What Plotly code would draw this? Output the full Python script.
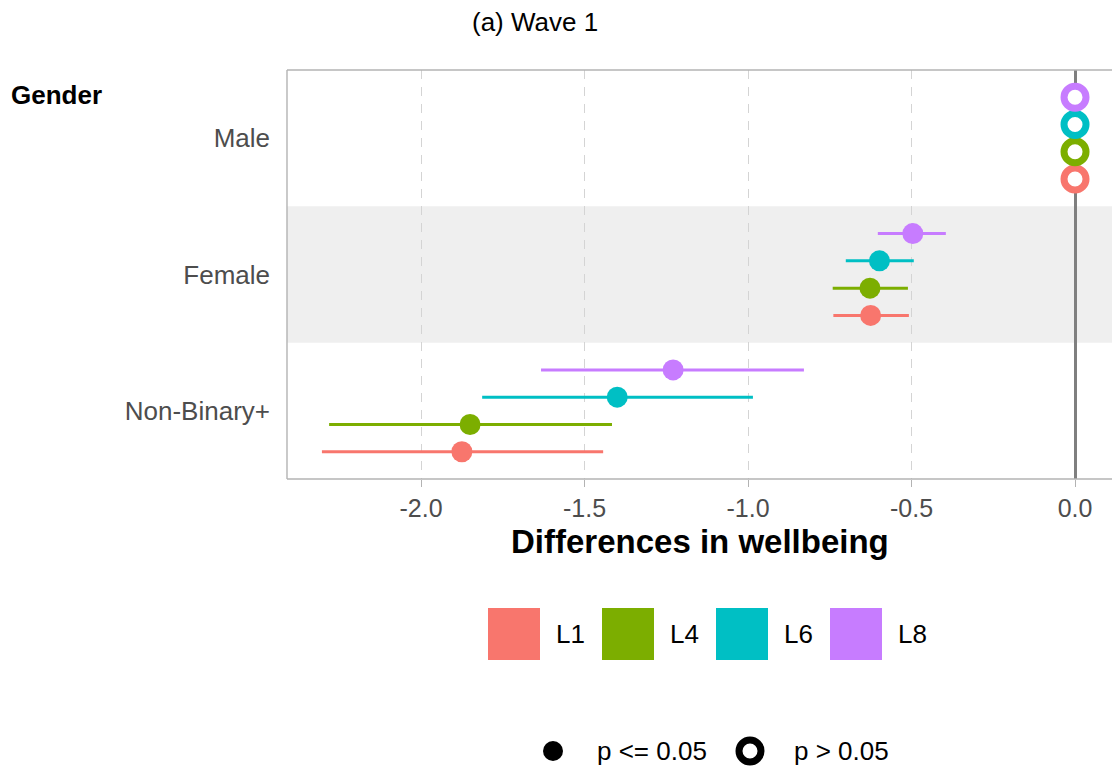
import plotly.graph_objects as go

# Estimates of differences in wellbeing by gender (reference: Male)
genders = ["Male", "Female", "Non-Binary+"]
levels = ["L1", "L4", "L6", "L8"]
colors = ["#F8766D", "#7CAE00", "#00BFC4", "#C77CFF"]

est_L1 = [0.0, -0.625, -1.875]
lo_L1 = [0.0, -0.739, -2.303]
hi_L1 = [0.0, -0.508, -1.443]

est_L4 = [0.0, -0.627, -1.850]
lo_L4 = [0.0, -0.741, -2.281]
hi_L4 = [0.0, -0.511, -1.416]

est_L6 = [0.0, -0.598, -1.400]
lo_L6 = [0.0, -0.701, -1.813]
hi_L6 = [0.0, -0.493, -0.985]

est_L8 = [0.0, -0.496, -1.229]
lo_L8 = [0.0, -0.603, -1.633]
hi_L8 = [0.0, -0.395, -0.829]

# p <= 0.05 ?
sig = [False, True, True]

x_ticks = [-2.0, -1.5, -1.0, -0.5, 0.0]
x_tick_text = ["-2.0", "-1.5", "-1.0", "-0.5", "0.0"]

series = {
    "L1": (est_L1, lo_L1, hi_L1),
    "L4": (est_L4, lo_L4, hi_L4),
    "L6": (est_L6, lo_L6, hi_L6),
    "L8": (est_L8, lo_L8, hi_L8),
}

W, H = 1112, 769
L, R, T, B = 287, 0, 70, 290
PW, PH = W - L - R, H - T - B


def px(p):
    return (p - L) / PW


def py(p):
    return (H - B - p) / PH


# category centres, top to bottom
ypos = {g: len(genders) - i for i, g in enumerate(genders)}
dodge = {"L1": -0.3, "L4": -0.1, "L6": 0.1, "L8": 0.3}

fig = go.Figure()
for lev, col in zip(levels, colors):
    est, lo, hi = series[lev]
    y = [ypos[g] + dodge[lev] for g in genders]
    # confidence intervals
    fig.add_trace(go.Scatter(
        x=est, y=y, mode="markers",
        marker=dict(size=1, color="rgba(0,0,0,0)"),
        error_x=dict(type="data", symmetric=False,
                     array=[h - e for h, e in zip(hi, est)],
                     arrayminus=[e - l for e, l in zip(est, lo)],
                     color=col, thickness=3, width=0),
        showlegend=False, hoverinfo="skip"))
    # filled points (significant)
    xs = [e for e, s in zip(est, sig) if s]
    ys = [v for v, s in zip(y, sig) if s]
    fig.add_trace(go.Scatter(
        x=xs, y=ys, mode="markers",
        marker=dict(symbol="circle", size=21, color=col, line=dict(width=0)),
        showlegend=False))
    # open points (not significant)
    xs = [e for e, s in zip(est, sig) if not s]
    ys = [v for v, s in zip(y, sig) if not s]
    fig.add_trace(go.Scatter(
        x=xs, y=ys, mode="markers",
        marker=dict(symbol="circle", size=22, color="white",
                    line=dict(width=7, color=col)),
        showlegend=False))

shapes = [
    # shaded band behind the middle category
    dict(type="rect", xref="paper", yref="y", x0=0, x1=1,
         y0=ypos["Female"] - 0.5, y1=ypos["Female"] + 0.5,
         fillcolor="#EFEFEF", line=dict(width=0), layer="below"),
    # panel border (left, top, bottom)
    dict(type="line", xref="paper", yref="paper", x0=0, x1=0, y0=0, y1=1,
         line=dict(color="#B3B3B3", width=1.4)),
    dict(type="line", xref="paper", yref="paper", x0=0, x1=1, y0=1, y1=1,
         line=dict(color="#B3B3B3", width=1.4)),
    dict(type="line", xref="paper", yref="paper", x0=0, x1=1, y0=0, y1=0,
         line=dict(color="#B3B3B3", width=1.4)),
]

annotations = [
    dict(text="(a) Wave 1", x=px(535), y=py(22), xref="paper", yref="paper",
         showarrow=False, font=dict(size=26, color="black"),
         xanchor="center", yanchor="middle"),
    dict(text="<b>Gender</b>", x=px(9), y=py(95), xref="paper", yref="paper",
         showarrow=False, font=dict(size=26, color="black"),
         xanchor="left", yanchor="middle"),
    dict(text="<b>Differences in wellbeing</b>", x=px(700), y=py(541),
         xref="paper", yref="paper", showarrow=False,
         font=dict(size=33, color="black"), xanchor="center", yanchor="middle"),
]

# colour legend
key_x = [488, 602, 716, 830]
for lev, col, kx in zip(levels, colors, key_x):
    shapes.append(dict(type="rect", xref="paper", yref="paper",
                       x0=px(kx), x1=px(kx + 52), y0=py(660), y1=py(608),
                       fillcolor=col, line=dict(width=0)))
    annotations.append(dict(text=lev, x=px(kx + 66), y=py(634),
                            xref="paper", yref="paper", showarrow=False,
                            font=dict(size=26, color="black"),
                            xanchor="left", yanchor="middle"))

# significance legend
shapes.append(dict(type="circle", xref="paper", yref="paper",
                   x0=px(543), x1=px(563), y0=py(761), y1=py(741),
                   fillcolor="black", line=dict(width=0)))
shapes.append(dict(type="circle", xref="paper", yref="paper",
                   x0=px(739), x1=px(761), y0=py(762), y1=py(740),
                   fillcolor="white", line=dict(width=7, color="black")))
annotations.append(dict(text="p <= 0.05", x=px(595), y=py(751), xref="paper",
                        yref="paper", showarrow=False,
                        font=dict(size=26, color="black"),
                        xanchor="left", yanchor="middle"))
annotations.append(dict(text="p > 0.05", x=px(792), y=py(751), xref="paper",
                        yref="paper", showarrow=False,
                        font=dict(size=26, color="black"),
                        xanchor="left", yanchor="middle"))

fig.update_layout(
    width=W, height=H,
    margin=dict(l=L, r=R, t=T, b=B, pad=0),
    paper_bgcolor="white", plot_bgcolor="white",
    font=dict(family="Liberation Sans, Arial, sans-serif"),
    showlegend=False,
    shapes=shapes, annotations=annotations,
    xaxis=dict(
        range=[-2.4098, 0.1131], tickvals=x_ticks, ticktext=x_tick_text,
        showgrid=True, gridcolor="#D4D4D4", gridwidth=1.4, griddash="9px,8px",
        zeroline=True, zerolinecolor="#7F7F7F", zerolinewidth=2.6,
        ticks="outside", ticklen=7, tickcolor="#B3B3B3", tickwidth=1.3,
        tickfont=dict(size=25, color="#4D4D4D"), showline=False,
        fixedrange=True,
    ),
    yaxis=dict(
        range=[0.5, 3.5], tickvals=[ypos[g] for g in genders], ticktext=genders,
        showgrid=False, zeroline=False, ticks="", showline=False,
        tickfont=dict(size=26, color="#4D4D4D"), ticklabelstandoff=16,
        fixedrange=True,
    ),
)

fig.write_html("out.html")
